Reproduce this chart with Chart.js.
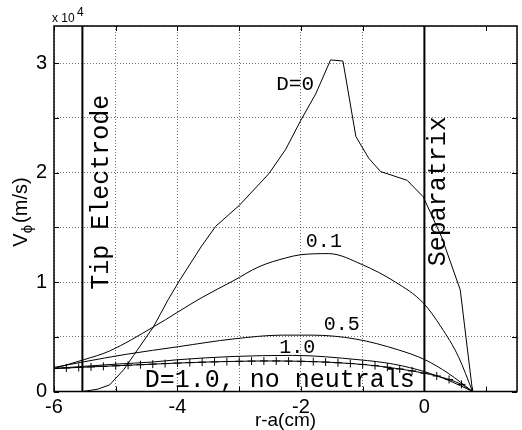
<!DOCTYPE html>
<html>
<head>
<meta charset="utf-8">
<script src="https://cdn.jsdelivr.net/npm/chart.js@4/dist/chart.umd.min.js"></script>
<style>
  html, body { margin: 0; padding: 0; background: #fff; }
  #wrap { width: 522px; height: 430px; }
</style>
</head>
<body>
<div id="wrap"><canvas id="myChart" width="522" height="430"></canvas></div>
<script>
// values in units of 10^4 m/s, x in cm (r-a)
const d0X = [-5.54, -5.3, -5.1, -4.87, -4.71, -4.39, -4.15, -3.96, -3.62, -3.38, -3.0, -2.52, -2.25, -2.0, -1.76, -1.52, -1.32, -1.11, -0.9, -0.71, -0.28, -0.02, 0.28, 0.58, 0.78];
const d0Y = [0, 0.02, 0.06, 0.2, 0.33, 0.59, 0.84, 1.02, 1.32, 1.51, 1.7, 1.99, 2.21, 2.48, 2.72, 3.03, 3.02, 2.33, 2.13, 2.01, 1.93, 1.78, 1.41, 0.93, 0];

const d01X = [-6, -5.52, -5.1, -4.39, -3.6, -3.1, -2.68, -2.25, -2.0, -1.55, -1.01, -0.47, -0.02, 0.27, 0.55, 0.78];
const d01Y = [0.21, 0.29, 0.37, 0.59, 0.86, 1.01, 1.14, 1.22, 1.25, 1.26, 1.16, 1.0, 0.81, 0.59, 0.32, 0];

const d05X = [-6, -5.53, -4.83, -3.98, -3.1, -2.3, -1.82, -1.12, -0.42, 0.01, 0.39, 0.78];
const d05Y = [0.22, 0.27, 0.34, 0.41, 0.48, 0.515, 0.515, 0.48, 0.38, 0.29, 0.165, 0];

const d10X = [-6, -5, -4.39, -4, -3.1, -2.14, -1.06, -0.5, 0.01, 0.4, 0.78];
const d10Y = [0.21, 0.25, 0.27, 0.29, 0.32, 0.33, 0.29, 0.25, 0.18, 0.1, 0];

// D=1.0, no neutrals (points drawn with + markers)
const nnX = [-6.0, -5.8, -5.6, -5.4, -5.2, -5.0, -4.8, -4.6, -4.4, -4.2, -4.0, -3.8, -3.6, -3.4, -3.2, -3.0, -2.8, -2.6, -2.4, -2.2, -2.0, -1.8, -1.6, -1.4, -1.2, -1.0, -0.8, -0.6, -0.4, -0.2, 0.0, 0.2, 0.4, 0.6, 0.78];
const nnY = [0.21, 0.215, 0.22, 0.225, 0.23, 0.235, 0.24, 0.245, 0.25, 0.255, 0.26, 0.264, 0.268, 0.271, 0.274, 0.276, 0.278, 0.279, 0.279, 0.278, 0.276, 0.273, 0.269, 0.263, 0.256, 0.247, 0.236, 0.222, 0.206, 0.188, 0.167, 0.142, 0.11, 0.065, 0];

const tipX = -5.54;
const sepX = 0;
const xLabels = [-6, -4, -2, 0];
const yLabels = [0, 1, 2, 3];

function pts(xs, ys) {
    return xs.map((x, i) => ({ x: x, y: ys[i] }));
}

function curve(xs, ys, smooth) {
    return {
        data: pts(xs, ys),
        showLine: true,
        borderColor: "#000",
        borderWidth: 1,
        pointRadius: 0,
        tension: smooth ? 0.4 : 0,
        cubicInterpolationMode: smooth ? "monotone" : "default"
    };
}

const vline = x => ({
    data: [{ x: x, y: 0 }, { x: x, y: 3.34 }],
    showLine: true,
    borderColor: "#000",
    borderWidth: 2,
    pointRadius: 0
});

const noNeutrals = curve(nnX, nnY, true);
noNeutrals.pointStyle = "cross";
noNeutrals.pointRadius = 4;
noNeutrals.pointBorderWidth = 1;
noNeutrals.pointBorderColor = "#000";

const mono = "'Liberation Mono', 'Courier New', monospace";
const sans = "'Liberation Sans', Arial, sans-serif";

const textPlugin = {
    id: "texts",
    afterDraw(chart) {
        const ctx = chart.ctx;
        const xs = chart.scales.x, ys = chart.scales.y;
        const a = chart.chartArea;
        ctx.save();
        // frame
        ctx.strokeStyle = "#000";
        ctx.lineWidth = 1.5;
        ctx.strokeRect(a.left, a.top, a.right - a.left, a.bottom - a.top);
        // inward ticks
        ctx.lineWidth = 1;
        ctx.beginPath();
        for (let v = -6; v <= 1; v++) {
            const px = Math.round(xs.getPixelForValue(v)) + 0.5;
            ctx.moveTo(px, a.bottom); ctx.lineTo(px, a.bottom - 5);
            ctx.moveTo(px, a.top); ctx.lineTo(px, a.top + 5);
        }
        for (let v = 0; v <= 3; v += 0.5) {
            const py = Math.round(ys.getPixelForValue(v)) + 0.5;
            ctx.moveTo(a.left, py); ctx.lineTo(a.left + 5, py);
            ctx.moveTo(a.right, py); ctx.lineTo(a.right - 5, py);
        }
        ctx.stroke();

        ctx.fillStyle = "#000";
        // rotated labels
        const vtext = (t, x, y, size) => {
            ctx.save();
            ctx.translate(xs.getPixelForValue(x), ys.getPixelForValue(y));
            ctx.rotate(-Math.PI / 2);
            ctx.font = size + "px " + mono;
            ctx.textAlign = "center";
            ctx.textBaseline = "middle";
            ctx.fillText(t, 0, 0);
            ctx.restore();
        };
        vtext("Tip Electrode", -5.24, 1.82, 25);
        vtext("Separatrix", 0.23, 1.83, 25);

        const htext = (t, x, y, size) => {
            ctx.font = size + "px " + mono;
            ctx.textAlign = "left";
            ctx.textBaseline = "alphabetic";
            ctx.fillText(t, xs.getPixelForValue(x), ys.getPixelForValue(y));
        };
        htext("D=0", -2.4, 2.755, 21);
        htext("0.1", -1.92, 1.32, 20);
        htext("0.5", -1.63, 0.56, 20);
        htext("1.0", -2.35, 0.35, 20);
        htext("D=1.0, no neutrals", -4.53, 0.04, 25);

        // exponent
        ctx.font = "12px " + sans;
        ctx.textAlign = "left";
        ctx.textBaseline = "alphabetic";
        ctx.fillText("x 10", a.left - 2, 22);
        ctx.fillText("4", a.left + 23, 16);

        // x title
        ctx.font = "19px " + sans;
        ctx.textAlign = "center";
        ctx.fillText("r-a(cm)", (a.left + a.right) / 2, 426);

        // y title: V_phi (m/s)
        ctx.save();
        ctx.translate(27, 212);
        ctx.rotate(-Math.PI / 2);
        ctx.textAlign = "left";
        ctx.font = "20px " + sans;
        const wV = ctx.measureText("V").width;
        ctx.font = "15px " + sans;
        const wP = ctx.measureText("\u03d5").width;
        ctx.font = "20px " + sans;
        const wM = ctx.measureText("(m/s)").width;
        let cx = -(wV + wP + wM + 2) / 2;
        ctx.fillText("V", cx, 0);
        cx += wV;
        ctx.font = "15px " + sans;
        ctx.fillText("\u03d5", cx, 5);
        cx += wP + 2;
        ctx.font = "20px " + sans;
        ctx.fillText("(m/s)", cx, 0);
        ctx.restore();

        ctx.restore();
    }
};

const config = {
    type: "scatter",
    data: {
        datasets: [
            curve(d0X, d0Y, false),
            curve(d01X, d01Y, true),
            curve(d05X, d05Y, true),
            curve(d10X, d10Y, true),
            noNeutrals,
            vline(tipX),
            vline(sepX)
        ]
    },
    options: {
        responsive: false,
        animation: false,
        layout: { padding: { top: 26, right: 3, left: 0, bottom: 0 } },
        plugins: {
            legend: { display: false },
            tooltip: { enabled: false }
        },
        scales: {
            x: {
                type: "linear",
                min: -6,
                max: 1.5,
                afterFit: s => { s.height = 38.5; },
                grid: { color: "rgba(0,0,0,0.55)", lineWidth: 1, drawTicks: false, tickLength: 0 },
                border: { display: false, dash: [1, 2] },
                ticks: {
                    stepSize: 1,
                    padding: 4,
                    color: "#000",
                    maxRotation: 0,
                    font: { family: sans, size: 20 },
                    callback: v => (xLabels.includes(v) ? String(v) : "")
                }
            },
            y: {
                min: 0,
                max: 3.34,
                afterFit: s => { s.width = 54; },
                grid: { color: "rgba(0,0,0,0.55)", lineWidth: 1, drawTicks: false, tickLength: 0 },
                border: { display: false, dash: [1, 2] },
                ticks: {
                    stepSize: 0.5,
                    padding: 7,
                    color: "#000",
                    font: { family: sans, size: 20 },
                    callback: v => (yLabels.includes(v) ? String(v) : "")
                }
            }
        }
    },
    plugins: [textPlugin]
};

const myChart = new Chart(document.getElementById("myChart"), config);
</script>
</body>
</html>
